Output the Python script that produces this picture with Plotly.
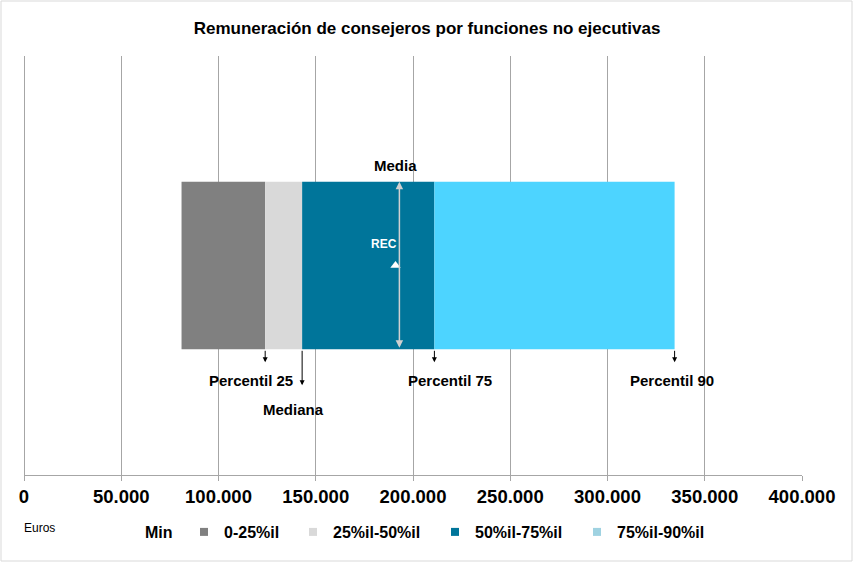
import plotly.graph_objects as go

# ---- data (euros) ----
stat_min = 81000
p25 = 124000
median = 143000
p75 = 211000
p90 = 334500
mean = 193000
rec = 191000

segment_names = ["Min", "0-25%il", "25%il-50%il", "50%il-75%il", "75%il-90%il"]
segment_starts = [0, stat_min, p25, median, p75]
segment_ends = [stat_min, p25, median, p75, p90]
bar_colors = ["rgba(0,0,0,0)", "#808080", "#d9d9d9", "#00759a", "#4dd4ff"]
legend_colors = ["rgba(0,0,0,0)", "#808080", "#d9d9d9", "#00759a", "#9fd2e1"]

tick_vals = [0, 50000, 100000, 150000, 200000, 250000, 300000, 350000, 400000]

FONT = "Liberation Sans, Arial, sans-serif"
PLOT_W, PLOT_H = 778, 419
ML, MT = 24, 56

fig = go.Figure()
for name, s, e, c in zip(segment_names, segment_starts, segment_ends, bar_colors):
    fig.add_trace(go.Bar(
        x=[e - s], base=[s], y=[0], orientation="h", width=0.4,
        marker=dict(color=c, line=dict(width=0)), name=name,
        showlegend=False, hoverinfo="skip"))

# legend entries, one legend box each (text starts at these pixel positions)
legend_text_px = [145, 224, 333, 475, 617]
legend_keys = ["legend", "legend2", "legend3", "legend4", "legend5"]
for name, c, key in zip(segment_names, legend_colors, legend_keys):
    fig.add_trace(go.Scatter(
        x=[None], y=[None], mode="markers", name=name, legend=key,
        marker=dict(symbol="square", size=8, color=c, line=dict(width=0)),
        showlegend=True))

# REC marker
fig.add_trace(go.Scatter(
    x=[rec], y=[0], mode="markers",
    marker=dict(symbol="triangle-up", color="white", size=9, line=dict(width=0)),
    showlegend=False, hoverinfo="skip"))

annotations = []
# Media double arrow
annotations.append(dict(
    x=mean, y=0.2, ax=mean, ay=-0.2, xref="x", yref="y", axref="x", ayref="y",
    text="", showarrow=True, arrowhead=2, arrowside="end+start",
    arrowsize=1, arrowwidth=1.5, arrowcolor="#d0d0d0"))
annotations.append(dict(
    x=mean, y=0.2, xref="x", yref="y", text="Media", showarrow=False,
    xshift=-4, yshift=6, yanchor="bottom",
    font=dict(family=FONT, size=15, color="black", weight="bold")))
annotations.append(dict(
    x=rec, y=0, xref="x", yref="y", text="REC", showarrow=False,
    xshift=-12, yshift=22,
    font=dict(family=FONT, size=12, color="white", weight="bold")))

# percentile arrows and labels
arrow_specs = [
    (p25, "Percentil 25", 13, -14, -31),
    (median, "Mediana", 36, -9, -60),
    (p75, "Percentil 75", 13, 16, -31),
    (p90, "Percentil 90", 13, -3, -31),
]
for val, label, length, xs, ys in arrow_specs:
    annotations.append(dict(
        x=val, y=-0.2 - length / PLOT_H, xref="x", yref="y",
        ax=0, ay=-length, text="", showarrow=True,
        arrowhead=2, arrowsize=1, arrowwidth=1, arrowcolor="black"))
    annotations.append(dict(
        x=val, y=-0.2, xref="x", yref="y", text=label, showarrow=False,
        xshift=xs, yshift=ys, yanchor="middle",
        font=dict(family=FONT, size=15, color="black", weight="bold")))

annotations.append(dict(
    x=-2 / PLOT_W, y=-53 / PLOT_H, xref="paper", yref="paper", text="Euros",
    showarrow=False, xanchor="left", yanchor="middle",
    font=dict(family=FONT, size=12, color="black")))

legend_common = dict(orientation="h", xanchor="left", yanchor="middle",
                     y=-57 / PLOT_H, bgcolor="rgba(0,0,0,0)",
                     font=dict(family=FONT, size=16, color="black", weight="bold"),
                     itemclick=False, itemdoubleclick=False)
legend_layouts = {}
for key, tx in zip(legend_keys, legend_text_px):
    legend_layouts[key] = dict(legend_common, x=(tx - 40 - ML) / PLOT_W)

fig.update_layout(
    width=854, height=563,
    margin=dict(l=ML, r=854 - ML - PLOT_W, t=MT, b=563 - MT - PLOT_H),
    paper_bgcolor="white", plot_bgcolor="white",
    separators=",.",
    barmode="overlay",
    title=dict(text="Remuneración de consejeros por funciones no ejecutivas",
               x=0.5, xref="container", xanchor="center",
               y=1 - 28 / 563, yref="container", yanchor="middle",
               font=dict(family=FONT, size=17, color="black", weight="bold")),
    xaxis=dict(range=[0, 400000], tickvals=tick_vals, tickformat=",d",
               showgrid=True, gridcolor="#a6a6a6", gridwidth=1,
               zeroline=True, zerolinecolor="#a6a6a6", zerolinewidth=1,
               showline=True, linecolor="#a6a6a6", linewidth=1,
               ticks="outside", ticklen=5, tickcolor="#a6a6a6",
               tickfont=dict(family=FONT, size=18.5, color="black", weight="bold")),
    yaxis=dict(range=[-0.5, 0.5], visible=False, fixedrange=True),
    annotations=annotations,
    shapes=[dict(type="rect", xref="paper", yref="paper",
                 x0=-23 / PLOT_W, x1=828 / PLOT_W, y0=-86 / PLOT_H, y1=474 / PLOT_H,
                 line=dict(color="#d9d9d9", width=1), fillcolor="rgba(0,0,0,0)",
                 layer="below")],
    **legend_layouts,
)

fig.write_html("out.html", config={"displayModeBar": False},
               post_script="document.body.style.margin='0';document.body.style.padding='0';")
